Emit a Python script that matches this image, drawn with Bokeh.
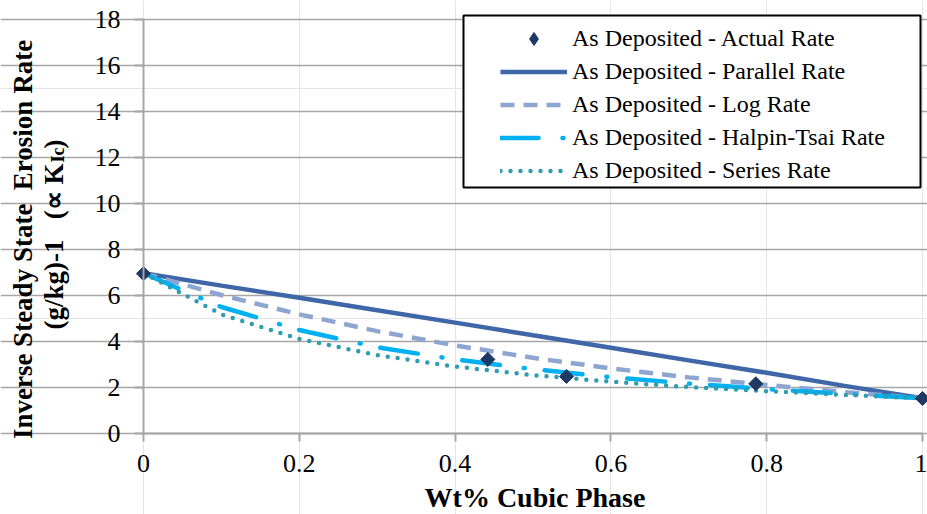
import math
from bokeh.plotting import figure
from bokeh.models import (Range1d, FixedTicker, Label, BoxAnnotation, Legend,
                          LegendItem, LinearAxis, Grid)
from bokeh.embed import file_html
from bokeh.resources import INLINE

# ---------------- data ----------------
x_model = [0.0, 0.1, 0.2, 0.3, 0.4, 0.5, 0.6, 0.7, 0.8, 0.9, 1.0]
parallel_rate = [6.97, 6.43, 5.90, 5.36, 4.82, 4.27, 3.73, 3.18, 2.64, 2.07, 1.53]
log_rate = [6.97, 6.02, 5.18, 4.45, 3.83, 3.29, 2.83, 2.44, 2.11, 1.80, 1.53]
halpin_tsai_rate = [6.97, 5.50, 4.50, 3.75, 3.22, 2.80, 2.45, 2.17, 1.93, 1.72, 1.53]
series_rate = [6.97, 5.18, 4.11, 3.41, 2.91, 2.54, 2.25, 2.02, 1.84, 1.68, 1.53]

actual_x = [0.0, 0.442, 0.543, 0.786, 1.0]
actual_y = [6.95, 3.22, 2.48, 2.16, 1.52]

x_ticks = [0, 0.2, 0.4, 0.6, 0.8, 1]
x_tick_labels = ["0", "0.2", "0.4", "0.6", "0.8", "1"]
y_ticks = [0, 2, 4, 6, 8, 10, 12, 14, 16, 18]

series_names = ["As Deposited - Actual Rate",
                "As Deposited - Parallel Rate",
                "As Deposited - Log Rate",
                "As Deposited - Halpin-Tsai Rate",
                "As Deposited - Series Rate"]

x_title = "Wt% Cubic Phase"
y_title_1 = "Inverse Steady State\u00a0 Erosion Rate"
y_title_2a = "(g/kg)-1\u00a0\u00a0 (\u221d K"
y_title_2sub = "Ic"
y_title_2b = ")"

# ---------------- layout / styling ----------------
FONT = "Liberation Serif"
GRID = "#a6a6a6"
W, H = 927, 514
X0_PX, X1_PX = 143.0, 922.0      # screen x of x=0 and x=1
Y0_PX, YTOP_PX = 433.0, 19.0     # screen y (from top) of y=0 and y=18
px_x = X1_PX - X0_PX
px_y = (Y0_PX - YTOP_PX) / 18.0

# the frame covers the whole canvas so nothing is clipped
p = figure(frame_width=W, frame_height=H,
           min_border_left=0, min_border_right=0,
           min_border_top=0, min_border_bottom=0,
           x_range=Range1d(-X0_PX / px_x, 1 + (W - X1_PX) / px_x),
           y_range=Range1d(-(H - Y0_PX) / px_y, Y0_PX / px_y),
           x_axis_location=None, y_axis_location=None,
           output_backend="svg", toolbar_location=None, tools="",
           background_fill_color="white", border_fill_color="white",
           outline_line_color=None)

xaxis = LinearAxis(fixed_location=0, ticker=FixedTicker(ticks=x_ticks),
                   major_label_overrides=dict(zip(x_ticks, x_tick_labels)),
                   bounds=(0, 1), major_tick_out=8, major_label_standoff=13)
yaxis = LinearAxis(fixed_location=0, ticker=FixedTicker(ticks=y_ticks),
                   bounds=(0, 18), major_tick_out=9, major_label_standoff=14)
for ax in (xaxis, yaxis):
    ax.axis_line_color = GRID
    ax.axis_line_width = 2
    ax.major_tick_line_color = GRID
    ax.major_tick_line_width = 2
    ax.minor_tick_line_color = None
    ax.major_tick_in = 0
    ax.major_label_text_font = FONT
    ax.major_label_text_font_size = "26px"
    ax.major_label_text_color = "black"
p.add_layout(xaxis, "below")
p.add_layout(yaxis, "left")

p.add_layout(Grid(dimension=1, ticker=FixedTicker(ticks=y_ticks),
                  bounds=(0, 1), grid_line_color=GRID, grid_line_width=1.5))

r_par = p.line(x_model, parallel_rate, line_color="#3F67A8", line_width=4.5)
r_log = p.line(x_model, log_rate, line_color="#8EA5D2", line_width=4.5,
               line_dash="14 9")
r_hal = p.line(x_model, halpin_tsai_rate, line_color="#00B0F0", line_width=4.5,
               line_dash="38 24 1 20", line_cap="round")
r_ser = p.line(x_model, series_rate, line_color="#2F9CB0", line_width=4.5,
               line_dash="0 10", line_cap="round")
# diamond marker (used for the legend), hidden under the rotated squares
r_act_leg = p.scatter(actual_x, actual_y, marker="diamond", size=11,
                      fill_color="#1F3864", line_color="#1F3864")
r_act = p.scatter(actual_x, actual_y, marker="square", angle=math.pi / 4,
                  size=10, fill_color="#1F3864", line_color="#1F3864")

# legend frame (screen units measured from the canvas bottom-left)
box = BoxAnnotation(left=463, right=920, top=H - 15, bottom=H - 187,
                    left_units="screen", right_units="screen",
                    top_units="screen", bottom_units="screen",
                    fill_color="white", fill_alpha=1.0,
                    line_color="black", line_width=2, line_alpha=1.0)
p.add_layout(box)

legend = Legend(items=[LegendItem(label=series_names[0], renderers=[r_act_leg]),
                       LegendItem(label=series_names[1], renderers=[r_par]),
                       LegendItem(label=series_names[2], renderers=[r_log]),
                       LegendItem(label=series_names[3], renderers=[r_hal]),
                       LegendItem(label=series_names[4], renderers=[r_ser])],
                location=(500, H - 187), padding=0, margin=0, spacing=0,
                label_height=28, glyph_height=33, glyph_width=67,
                label_standoff=5, label_text_font=FONT,
                label_text_font_size="24px", label_text_color="black",
                border_line_alpha=0, background_fill_alpha=0)
p.add_layout(legend)

# axis titles
p.add_layout(Label(x=534.5, y=H - 497, x_units="screen", y_units="screen",
                   text=x_title, text_font=FONT, text_font_size="28px",
                   text_font_style="bold", text_align="center",
                   text_baseline="alphabetic", text_color="black"))

p.add_layout(Label(x=22, y=H - 239, x_units="screen", y_units="screen",
                   angle=math.pi / 2, text=y_title_1, text_font=FONT,
                   text_font_size="27px", text_font_style="bold",
                   text_align="center", text_baseline="alphabetic",
                   text_color="black"))
p.add_layout(Label(x=53, y=H - 163, x_units="screen", y_units="screen",
                   angle=math.pi / 2, text=y_title_2a, text_font=FONT,
                   text_font_size="27px", text_font_style="bold",
                   text_align="right", text_baseline="alphabetic",
                   text_color="black"))
p.add_layout(Label(x=57, y=H - 162, x_units="screen", y_units="screen",
                   angle=math.pi / 2, text=y_title_2sub, text_font=FONT,
                   text_font_size="18px", text_font_style="bold",
                   text_align="left", text_baseline="alphabetic",
                   text_color="black"))
p.add_layout(Label(x=53, y=H - 148, x_units="screen", y_units="screen",
                   angle=math.pi / 2, text=y_title_2b, text_font=FONT,
                   text_font_size="27px", text_font_style="bold",
                   text_align="left", text_baseline="alphabetic",
                   text_color="black"))

open("out.html", "w").write(file_html(p, INLINE))
